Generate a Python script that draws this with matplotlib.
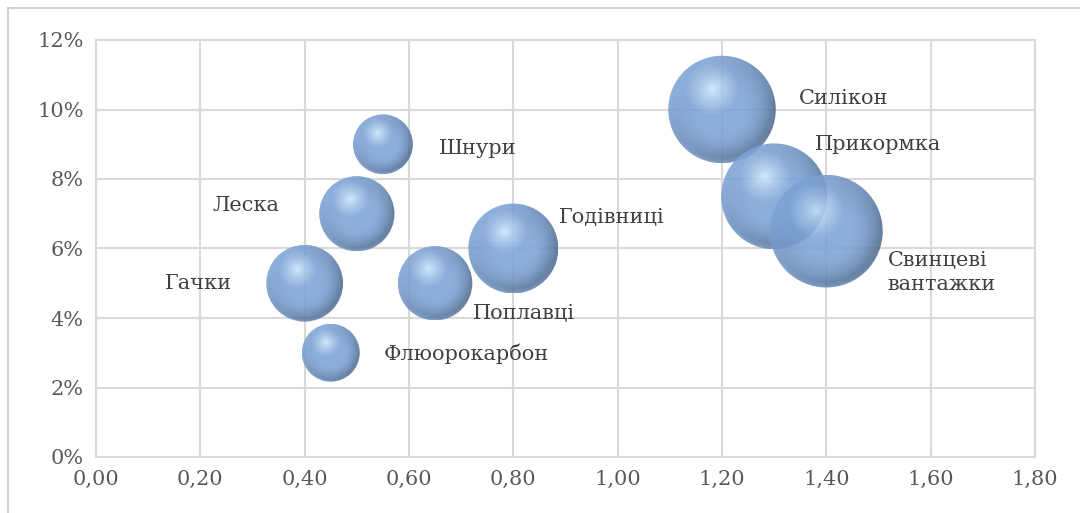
import numpy as np
import matplotlib
matplotlib.use("Agg")
import matplotlib.pyplot as plt
from matplotlib.patches import Circle
from matplotlib.transforms import ScaledTranslation
from matplotlib.colors import to_rgb
from matplotlib.ticker import FuncFormatter, MultipleLocator

# data
names = ["Гачки", "Флюорокарбон", "Леска", "Шнури", "Поплавці",
         "Годівниці", "Силікон", "Прикормка", "Свинцеві\nвантажки"]
x_vals = [0.40, 0.45, 0.50, 0.55, 0.65, 0.80, 1.20, 1.30, 1.40]
y_vals = [0.05, 0.03, 0.07, 0.09, 0.05, 0.06, 0.10, 0.075, 0.065]
sizes = [5.1, 2.9, 4.9, 3.1, 4.8, 7.0, 10.0, 9.7, 11.0]

# label offsets in points and alignment
label_off = [(-52, 0), (38, -1), (-56, 6), (40, -3), (27, -22),
             (33, 22), (55, 8), (29, 37), (44, -30)]
label_ha = ["right", "left", "right", "left", "left",
            "left", "left", "left", "left"]

FONT = "DejaVu Serif"
plt.rcParams["font.family"] = [FONT]

fig = plt.figure(figsize=(10.8, 5.13), dpi=100)
ax = fig.add_axes([96 / 1080, 56 / 513, 939 / 1080, 417 / 513])

# outer chart frame (top and left edges)
fig.add_artist(plt.Line2D([8 / 1080, 1.0], [1 - 8 / 513, 1 - 8 / 513],
                          transform=fig.transFigure, color="#c8c8c8", lw=1.2))
fig.add_artist(plt.Line2D([8 / 1080, 8 / 1080], [0, 1 - 8 / 513],
                          transform=fig.transFigure, color="#c8c8c8", lw=1.2))

ax.set_xlim(0, 1.8)
ax.set_ylim(0, 0.12)
ax.xaxis.set_major_locator(MultipleLocator(0.2))
ax.yaxis.set_major_locator(MultipleLocator(0.02))
ax.xaxis.set_major_formatter(FuncFormatter(lambda v, p: f"{v:.2f}".replace(".", ",")))
ax.yaxis.set_major_formatter(FuncFormatter(lambda v, p: f"{v * 100:.0f}%"))
ax.grid(True, color="#d9d9d9", lw=1.5)
ax.set_axisbelow(True)
for s in ax.spines.values():
    s.set_color("#d9d9d9")
    s.set_linewidth(1.5)
ax.tick_params(length=0, labelsize=15, labelcolor="#595959", pad=9)

# sphere shading image
n = 200
u, v = np.meshgrid(np.linspace(-1, 1, n), np.linspace(1, -1, n))
rr = np.sqrt(u ** 2 + v ** 2)
dh = np.sqrt((u + 0.18) ** 2 + (v - 0.37) ** 2)
light = np.array(to_rgb("#cfe8ff"))
base = np.array(to_rgb("#7ca3d5"))
dark = np.array(to_rgb("#3a5273"))
t1 = np.clip(dh / 0.5, 0, 1)[..., None] ** 0.8
col = light * (1 - t1) + base * t1
t2 = np.clip((rr - 0.45) / 0.55, 0, 1)[..., None] ** 1.5
# darker toward bottom-right rim
shade = np.clip(0.45 + 0.55 * (u * 0.7 - v * 0.7), 0, 1)[..., None]
col = col * (1 - t2 * shade * 0.88) + dark * (t2 * shade * 0.88)
# faint light reflection on the lower edge
refl = (np.clip((rr - 0.9) / 0.1, 0, 1) * np.clip(-v, 0, 1))[..., None]
col = col * (1 - refl * 0.5) + np.array(to_rgb("#8db6ea")) * refl * 0.5
img = np.dstack([col, np.full((n, n), 0.88)])

r_scale = 0.170  # inches per sqrt(size)
for xi, yi, si in zip(x_vals, y_vals, sizes):
    r = r_scale * np.sqrt(si)
    tr = fig.dpi_scale_trans + ScaledTranslation(xi, yi, ax.transData)
    circ = Circle((0, 0), r, transform=tr, facecolor="none", edgecolor="none")
    ax.add_patch(circ)
    im = ax.imshow(img, extent=[-r, r, -r, r], transform=tr, aspect="auto",
                   interpolation="bilinear", zorder=3)
    im.set_clip_path(circ)

for name, xi, yi, (dx, dy), ha in zip(names, x_vals, y_vals, label_off, label_ha):
    ax.annotate(name, (xi, yi), xytext=(dx, dy), textcoords="offset points",
                ha=ha, va="center", fontsize=15, color="#404040",
                multialignment="left", linespacing=1.35, zorder=5)

ax.set_xlim(0, 1.8)
ax.set_ylim(0, 0.12)
fig.savefig("out.png", dpi=100)
